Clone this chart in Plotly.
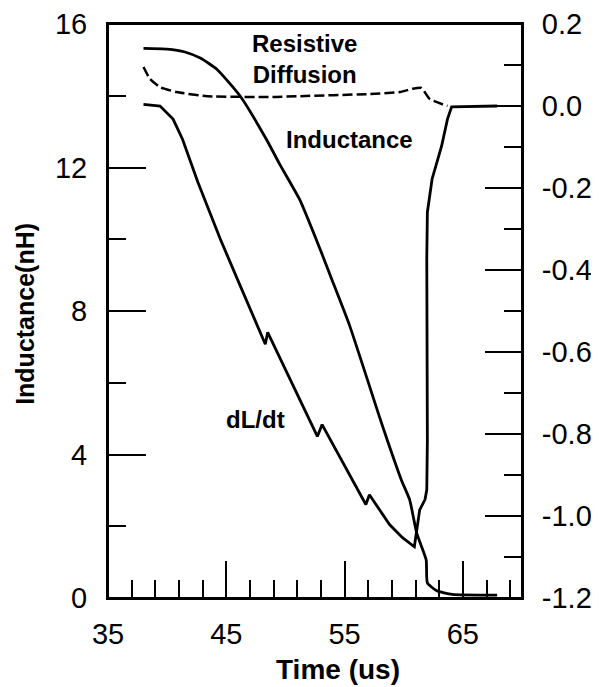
import plotly.graph_objects as go

# ---- data ----
ind_t = [38.0, 40.0, 41.5, 42.8, 44.2, 46.2, 48.4, 49.5, 51.2, 52.9, 53.9, 55.4, 58.0, 58.6, 59.8, 60.5, 61.1, 61.9, 62.0, 62.8, 64.1, 67.9]
ind_L = [15.32, 15.30, 15.22, 15.05, 14.74, 13.98, 12.78, 12.10, 11.11, 9.75, 8.90, 7.62, 5.0, 4.41, 3.29, 2.74, 1.81, 1.06, 0.42, 0.20, 0.10, 0.08]

dl_t = [38.0, 39.4, 40.5, 41.3, 42.6, 44.5, 46.2, 48.3, 48.5, 52.7, 53.1, 55.6, 56.8, 57.1, 58.8, 59.9, 60.9,
        61.35, 61.8, 61.95, 62.0, 61.95, 62.0, 62.4, 63.2, 63.7, 64.05, 67.9]
dl_v = [0.004, 0.0, -0.032, -0.081, -0.186, -0.325, -0.44, -0.581, -0.552, -0.806, -0.777, -0.911, -0.972, -0.948,
        -1.021, -1.053, -1.075, -0.985, -0.96, -0.936, -0.814, -0.374, -0.259, -0.178, -0.098, -0.032, -0.002, 0.0]

rd_t = [38.0, 38.55, 39.4, 40.8, 43.4, 48.9, 51.2, 56.9, 59.7, 60.75, 61.5, 62.2, 63.7]
rd_v = [0.095, 0.066, 0.046, 0.034, 0.024, 0.022, 0.024, 0.029, 0.034, 0.042, 0.044, 0.017, 0.0]

x_ticks = [35, 45, 55, 65]
y1_ticks = [0, 4, 8, 12, 16]
y2_ticks = [-1.2, -1.0, -0.8, -0.6, -0.4, -0.2, 0.0, 0.2]
y2_labels = ["-1.2", "-1.0", "-0.8", "-0.6", "-0.4", "-0.2", "0.0", "0.2"]

FONT = "Liberation Sans, Arial, sans-serif"

fig = go.Figure()
fig.add_trace(go.Scatter(x=ind_t, y=ind_L, mode="lines", line=dict(color="black", width=2.8, shape="spline", smoothing=0.5), yaxis="y"))
fig.add_trace(go.Scatter(x=dl_t, y=dl_v, mode="lines", line=dict(color="black", width=2.8), yaxis="y2"))
fig.add_trace(go.Scatter(x=rd_t, y=rd_v, mode="lines", line=dict(color="black", width=2.5, dash="10px,4px", shape="spline", smoothing=0.5), yaxis="y2"))

tickfont = dict(family=FONT, size=29, color="black")

# The page body has an 8px margin; size and margins compensate so the plot area lands at x 108-522, y 24-598
fig.update_layout(
    width=591, height=679,
    margin=dict(l=100, r=77, t=16, b=89),
    paper_bgcolor="white", plot_bgcolor="white",
    showlegend=False,
    font=dict(family=FONT, color="black"),
    xaxis=dict(range=[35, 70], tickvals=x_ticks, ticks="inside", ticklen=37, tickwidth=1.5, tickcolor="black",
               minor=dict(dtick=2, tick0=35, ticks="inside", ticklen=18, tickwidth=1.5, tickcolor="black", showgrid=False),
               showline=True, linecolor="black", linewidth=2, mirror=True, showgrid=False, zeroline=False,
               tickfont=tickfont, ticklabelstandoff=9, automargin=False, ticklabeloverflow="allow"),
    yaxis=dict(range=[0, 16], tickvals=y1_ticks, ticks="inside", ticklen=38, tickwidth=1.5, tickcolor="black",
               minor=dict(dtick=2, tick0=0, ticks="inside", ticklen=18, tickwidth=1.5, tickcolor="black", showgrid=False),
               showline=True, linecolor="black", linewidth=2, showgrid=False, zeroline=False,
               tickfont=tickfont, ticklabelstandoff=13, automargin=False, ticklabeloverflow="allow"),
    yaxis2=dict(range=[-1.2, 0.2], overlaying="y", side="right", tickvals=y2_ticks, ticktext=y2_labels,
                ticks="inside", ticklen=37, tickwidth=1.5, tickcolor="black",
                minor=dict(dtick=0.1, tick0=0, ticks="inside", ticklen=18, tickwidth=1.5, tickcolor="black", showgrid=False),
                showline=True, linecolor="black", linewidth=2, showgrid=False, zeroline=False,
                tickfont=tickfont, ticklabelstandoff=12, automargin=False, ticklabeloverflow="allow"),
)

# plot frame (top edge of the box)
fig.add_shape(type="rect", xref="paper", yref="paper", x0=0, x1=1, y0=0, y1=1,
              line=dict(color="black", width=2), fillcolor="rgba(0,0,0,0)", layer="above")

bold = dict(family=FONT, size=24, color="black", weight="bold")
fig.add_annotation(text="Resistive<br>Diffusion", x=51.63, y=15.02, xref="x", yref="y", showarrow=False,
                   font=bold, align="center")
fig.add_annotation(text="Inductance", x=55.43, y=12.78, xref="x", yref="y", showarrow=False, font=bold)
fig.add_annotation(text="dL/dt", x=47.5, y=4.97, xref="x", yref="y", showarrow=False, font=bold)
fig.add_annotation(text="Time (us)", x=0.556, y=-0.125, xref="paper", yref="paper", showarrow=False,
                   font=dict(family=FONT, size=28, color="black", weight="bold"), yanchor="middle")
fig.add_annotation(text="Inductance(nH)", x=-0.2005, y=0.495, xref="paper", yref="paper", showarrow=False,
                   textangle=-90, font=dict(family=FONT, size=25, color="black", weight="bold"),
                   xanchor="center", yanchor="middle")

fig.write_html("out.html")
